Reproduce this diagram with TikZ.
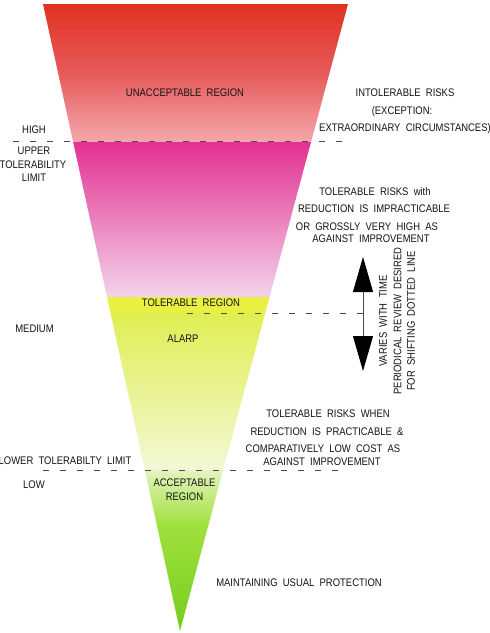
\documentclass[tikz,border=0pt]{standalone}
\usepackage{fontspec}
\setmainfont{Liberation Sans}[FakeStretch=0.86,WordSpace=2]
\usetikzlibrary{arrows.meta}
\definecolor{txt}{RGB}{20,20,20}
\definecolor{guidec}{RGB}{75,75,75}
\definecolor{redA}{RGB}{224,50,32}
\definecolor{redB}{RGB}{230,90,90}
\definecolor{redC}{RGB}{243,168,172}
\definecolor{magA}{RGB}{227,48,145}
\definecolor{magB}{RGB}{242,212,234}
\definecolor{yelA}{RGB}{232,240,66}
\definecolor{ylgA}{RGB}{224,238,82}
\definecolor{ylgB}{RGB}{242,248,214}
\definecolor{grnA}{RGB}{228,244,192}
\definecolor{grnB}{RGB}{160,224,62}
\definecolor{grnC}{RGB}{118,205,28}
\begin{document}
\begin{tikzpicture}[x=1pt,y=-1pt,
  lbl/.style={font=\fontsize{11}{14}\selectfont, text=txt, inner sep=0pt, text height=7.9pt, text depth=0pt},
  guide/.style={draw=guidec, line width=0.7pt, dash pattern=on 6pt off 11pt}]
\useasboundingbox (0,0) rectangle (490,633);
\fill[white] (0,0) rectangle (490,633);
\begin{scope}
  \clip (43,4) -- (348,4) -- (180,631) -- cycle;
  \shade[top color=redA, bottom color=redC, middle color=redB] (40,4) rectangle (352,142);
  \shade[top color=magA, bottom color=magB] (40,142) rectangle (352,297);
  \fill[yelA] (40,297) rectangle (352,313);
  \shade[top color=ylgA, bottom color=ylgB] (40,313) rectangle (352,470);
  \shade[top color=grnA, bottom color=grnB] (40,470) rectangle (352,525);
  \shade[top color=grnB, bottom color=grnC] (40,524.5) rectangle (352,632);
\end{scope}
% guide lines
\coordinate (u1) at (13,141.5); \coordinate (u2) at (348,141.5);
\coordinate (m1) at (187,313); \coordinate (m2) at (363,313);
\coordinate (l1) at (43,470); \coordinate (l2) at (348,470);
\draw[guide] (u1) -- (u2);
\draw[guide] (m1) -- (m2);
\draw[guide] (l1) -- (l2);
% arrow
\coordinate (atop) at (363,257); \coordinate (abot) at (363,371);
\draw[line width=1pt, draw=guidec, {Triangle[width=20pt,length=35pt,color=black]}-{Triangle[width=20pt,length=35pt,color=black]}] (atop) -- (abot);
% region labels
\node[lbl] (unacc) at (185,93) {UNACCEPTABLE REGION};
\node[lbl] (tolreg) at (191,303) {TOLERABLE REGION};
\node[lbl] (alarp) at (183,339) {ALARP};
\node[lbl] (acc1) at (184.5,483) {ACCEPTABLE};
\node[lbl] (acc2) at (184.5,497) {REGION};
% left labels
\node[lbl] (high) at (34,130) {HIGH};
\node[lbl] (up1) at (34,151) {UPPER};
\node[lbl] (up2) at (33,165) {TOLERABILITY};
\node[lbl] (up3) at (34,178) {LIMIT};
\node[lbl] (medium) at (34.5,329) {MEDIUM};
\node[lbl] (lowlim) at (65,461) {LOWER TOLERABILTY LIMIT};
\node[lbl] (low) at (34,485) {LOW};
% right labels
\node[lbl] (r1a) at (405,93) {INTOLERABLE RISKS};
\node[lbl] (r1b) at (402,111) {(EXCEPTION:};
\node[lbl] (r1c) at (405,128) {EXTRAORDINARY CIRCUMSTANCES)};
\node[lbl] (r2a) at (375,192) {TOLERABLE RISKS with};
\node[lbl] (r2b) at (374,209) {REDUCTION IS IMPRACTICABLE};
\node[lbl] (r2c) at (367,227) {OR GROSSLY VERY HIGH AS};
\node[lbl] (r2d) at (371,239) {AGAINST IMPROVEMENT};
\node[lbl] (r3a) at (328,414) {TOLERABLE RISKS WHEN};
\node[lbl] (r3b) at (327,432) {REDUCTION IS PRACTICABLE \&};
\node[lbl] (r3c) at (323,449) {COMPARATIVELY LOW COST AS};
\node[lbl] (r3d) at (322,462) {AGAINST IMPROVEMENT};
\node[lbl] (r4) at (299,583) {MAINTAINING USUAL PROTECTION};
% rotated note
\node[lbl, rotate=90] (v1) at (383,321) {VARIES WITH TIME};
\node[lbl, rotate=90] (v2) at (397.5,321) {PERIODICAL REVIEW DESIRED};
\node[lbl, rotate=90] (v3) at (411,321) {FOR SHIFTING DOTTED LINE};
\end{tikzpicture}
\end{document}
